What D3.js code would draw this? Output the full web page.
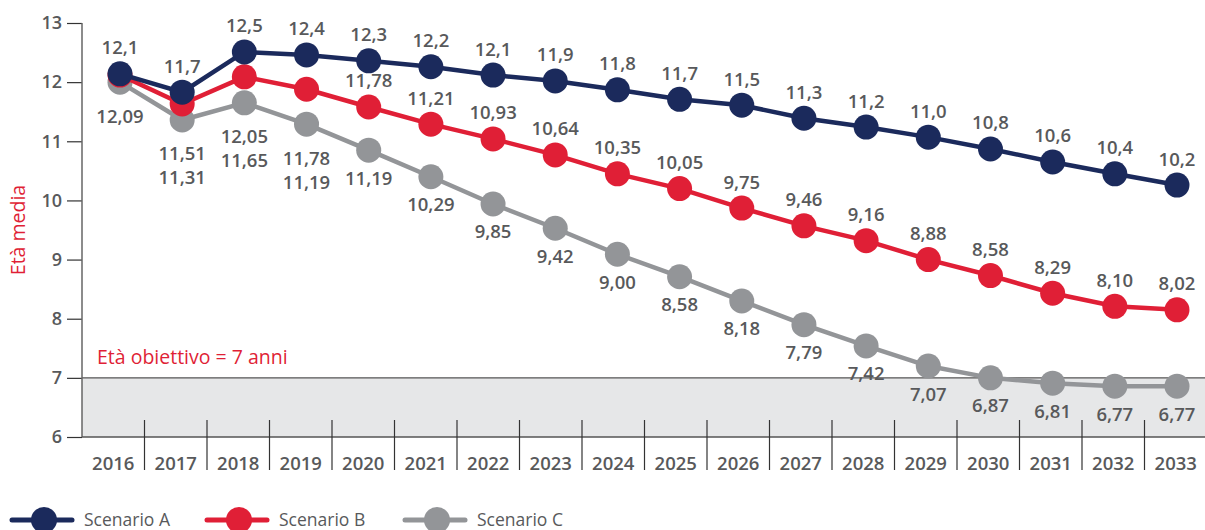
<!DOCTYPE html>
<html>
<head>
<meta charset="utf-8">
<script src="https://cdn.jsdelivr.net/npm/d3@7"></script>
<style>
  body { margin: 0; background: #fff; }
  svg text { font-family: "Open Sans", Roboto, sans-serif; }
</style>
</head>
<body>
<svg width="1205" height="530"></svg>
<script>
// Data
const years = ["2016","2017","2018","2019","2020","2021","2022","2023","2024",
  "2025","2026","2027","2028","2029","2030","2031","2032","2033"];

const scenarioA = [12.14, 11.83, 12.51, 12.46, 12.36, 12.26, 12.12, 12.02, 11.87,
  11.71, 11.61, 11.39, 11.24, 11.07, 10.87, 10.65, 10.45, 10.26];
const scenarioB = [12.12, 11.63, 12.09, 11.88, 11.58, 11.29, 11.04, 10.77, 10.45,
  10.20, 9.87, 9.57, 9.32, 9.00, 8.73, 8.43, 8.21, 8.15];
const scenarioC = [12.00, 11.36, 11.65, 11.29, 10.85, 10.40, 9.94, 9.53, 9.09,
  8.71, 8.30, 7.90, 7.54, 7.20, 7.00, 6.91, 6.86, 6.86];

const labelsA = ["12,1","11,7","12,5","12,4","12,3","12,2","12,1","11,9","11,8",
  "11,7","11,5","11,3","11,2","11,0","10,8","10,6","10,4","10,2"];
const labelsB = ["12,09","11,51","12,05","11,78","11,78","11,21","10,93","10,64","10,35",
  "10,05","9,75","9,46","9,16","8,88","8,58","8,29","8,10","8,02"];
const labelsC = ["","11,31","11,65","11,19","11,19","10,29","9,85","9,42","9,00",
  "8,58","8,18","7,79","7,42","7,07","6,87","6,81","6,77","6,77"];

const yTicks = [6, 7, 8, 9, 10, 11, 12, 13];
const target = 7;

const seriesNames = ["Scenario A", "Scenario B", "Scenario C"];
const colors = ["#1b2a5c", "#e01f36", "#939598"];

const svg = d3.select("svg"),
  width = +svg.attr("width"),
  height = +svg.attr("height");

const textColor = "#58595b";

// scales
const xBand = d3.scaleBand().domain(years).range([82, 1207]);
const xPt = d3.scalePoint().domain(years).range([120, 1177]);
const y = d3.scaleLinear().domain([6, 13]).range([437, 23]);

// target zone
svg.append("rect")
  .attr("x", xBand.range()[0])
  .attr("y", y(target))
  .attr("width", xBand.range()[1] - xBand.range()[0])
  .attr("height", y(6) - y(target))
  .attr("fill", "#e6e7e8");

svg.append("line")
  .attr("x1", xBand.range()[0]).attr("x2", xBand.range()[1])
  .attr("y1", y(target)).attr("y2", y(target))
  .attr("stroke", "#555").attr("stroke-width", 1.3);

svg.append("text")
  .attr("x", 97).attr("y", y(target) - 14)
  .attr("fill", colors[1])
  .attr("font-size", 19.5)
  .text("Età obiettivo = 7 anni");

// y axis
const yAxis = svg.append("g")
  .attr("transform", `translate(${xBand.range()[0]},0)`)
  .call(d3.axisLeft(y).tickValues(yTicks).tickFormat(d3.format("d"))
    .tickSize(15).tickPadding(5));
yAxis.select(".domain").remove();
yAxis.selectAll(".tick line").attr("stroke", "#333").attr("stroke-width", 1.2);
yAxis.selectAll(".tick text")
  .attr("fill", textColor).attr("font-size", 18).attr("font-weight", 600)
  .attr("font-family", "'Open Sans', sans-serif");
svg.append("line")
  .attr("x1", xBand.range()[0]).attr("x2", xBand.range()[0])
  .attr("y1", y(13)).attr("y2", y(6))
  .attr("stroke", "#666").attr("stroke-width", 1.5);

svg.append("text")
  .attr("transform", `translate(25,${(y(6) + y(13)) / 2}) rotate(-90)`)
  .attr("text-anchor", "middle")
  .attr("fill", colors[1])
  .attr("font-size", 19.5)
  .text("Età media");

// x axis
svg.append("line")
  .attr("x1", xBand.range()[0]).attr("x2", xBand.range()[1])
  .attr("y1", y(6)).attr("y2", y(6))
  .attr("stroke", "#555").attr("stroke-width", 1.3);

svg.append("g").selectAll("line")
  .data(years.slice(1))
  .join("line")
  .attr("x1", d => xBand(d)).attr("x2", d => xBand(d))
  .attr("y1", y(6) - 17).attr("y2", y(6) + 33)
  .attr("stroke", "#333").attr("stroke-width", 1.2);

svg.append("g").selectAll("text")
  .data(years)
  .join("text")
  .attr("x", d => xBand(d) + xBand.bandwidth() / 2)
  .attr("y", y(6) + 33)
  .attr("text-anchor", "middle")
  .attr("fill", textColor)
  .attr("font-size", 18.5)
  .attr("font-weight", 600)
  .text(d => d);

// lines and dots
const series = [scenarioA, scenarioB, scenarioC];
const line = d3.line().x((d, i) => xPt(years[i])).y(d => y(d));

// draw C first so A ends on top
[2, 1, 0].forEach(k => {
  svg.append("path")
    .datum(series[k])
    .attr("d", line)
    .attr("fill", "none")
    .attr("stroke", colors[k])
    .attr("stroke-width", 4.5);
  svg.append("g").selectAll("circle")
    .data(series[k])
    .join("circle")
    .attr("cx", (d, i) => xPt(years[i]))
    .attr("cy", d => y(d))
    .attr("r", 12.5)
    .attr("fill", colors[k]);
});

// value labels
const stacked = ["2016", "2017", "2018", "2019"]; // B and C labels stacked under C
const lab = svg.append("g")
  .attr("fill", textColor)
  .attr("font-size", 18.5)
  .attr("font-weight", 600)
  .attr("text-anchor", "middle")
  .attr("dominant-baseline", "central");

lab.selectAll(".la").data(labelsA).join("text")
  .attr("class", "la")
  .attr("x", (d, i) => xPt(years[i]))
  .attr("y", (d, i) => y(scenarioA[i]) - 27)
  .text(d => d);

lab.selectAll(".lb").data(labelsB).join("text")
  .attr("class", "lb")
  .attr("x", (d, i) => xPt(years[i]))
  .attr("y", (d, i) => stacked.includes(years[i])
    ? y(scenarioC[i]) + 33
    : y(scenarioB[i]) - 27)
  .text(d => d);

lab.selectAll(".lc").data(labelsC).join("text")
  .attr("class", "lc")
  .attr("x", (d, i) => xPt(years[i]))
  .attr("y", (d, i) => stacked.includes(years[i])
    ? y(scenarioC[i]) + 57
    : y(scenarioC[i]) + 27)
  .text(d => d);

// legend
const legendX = [12, 207, 405];
const legend = svg.append("g").attr("transform", "translate(0,520)");
seriesNames.forEach((name, k) => {
  const g = legend.append("g").attr("transform", `translate(${legendX[k]},0)`);
  g.append("line")
    .attr("x1", 0).attr("x2", 60)
    .attr("stroke", colors[k]).attr("stroke-width", 5)
    .attr("stroke-linecap", "round");
  g.append("circle").attr("cx", 32).attr("r", 13).attr("fill", colors[k]);
  g.append("text")
    .attr("x", 72).attr("y", 6)
    .attr("fill", textColor)
    .attr("font-size", 17.5)
    .text(name);
});
</script>
</body>
</html>
